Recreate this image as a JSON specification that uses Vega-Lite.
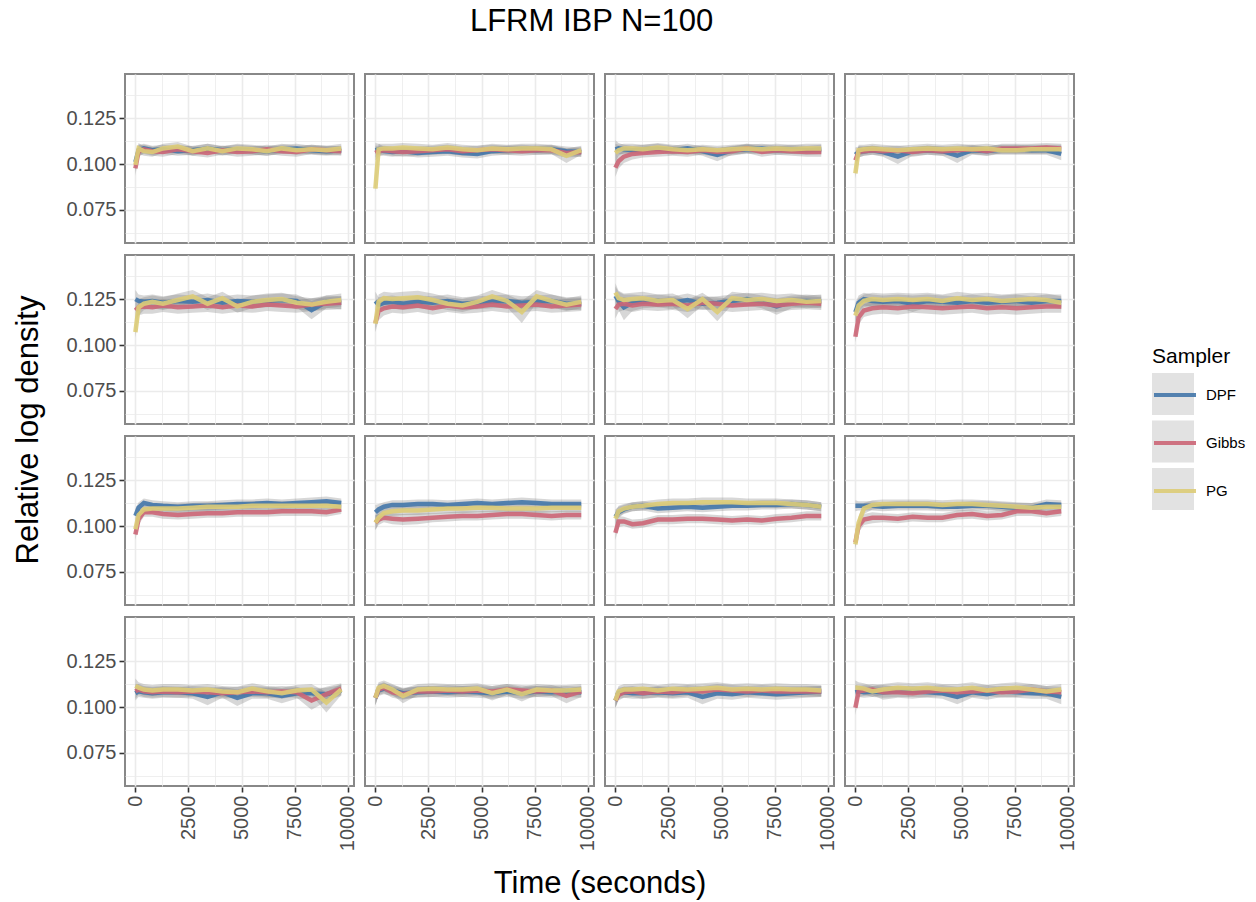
{
"$schema": "https://vega.github.io/schema/vega-lite/v6.json",
"background": "white",
"padding": {"left": 12, "top": 6, "right": 5, "bottom": 5},
"title": {"text": "LFRM IBP N=100", "fontSize": 31, "fontWeight": "normal", "font": "Liberation Sans", "color": "#000000", "anchor": "middle", "offset": 35, "dx": -38},
"data": {"values": [
{"p":1,"s":"DPF","t":0,"y":0.101,"lo":0.097,"hi":0.105},{"p":1,"s":"DPF","t":150,"y":0.1075,"lo":0.1045,"hi":0.1105},{"p":1,"s":"DPF","t":400,"y":0.1085,"lo":0.106,"hi":0.111},{"p":1,"s":"DPF","t":800,"y":0.1075,"lo":0.105,"hi":0.11},{"p":1,"s":"DPF","t":1300,"y":0.108,"lo":0.1055,"hi":0.1105},{"p":1,"s":"DPF","t":2000,"y":0.107,"lo":0.1045,"hi":0.1095},{"p":1,"s":"DPF","t":2700,"y":0.1075,"lo":0.105,"hi":0.11},{"p":1,"s":"DPF","t":3400,"y":0.1085,"lo":0.106,"hi":0.111},{"p":1,"s":"DPF","t":4100,"y":0.1075,"lo":0.105,"hi":0.11},{"p":1,"s":"DPF","t":4800,"y":0.108,"lo":0.1055,"hi":0.1105},{"p":1,"s":"DPF","t":5500,"y":0.1075,"lo":0.105,"hi":0.11},{"p":1,"s":"DPF","t":6200,"y":0.107,"lo":0.1045,"hi":0.1095},{"p":1,"s":"DPF","t":6900,"y":0.108,"lo":0.1055,"hi":0.1105},{"p":1,"s":"DPF","t":7600,"y":0.1085,"lo":0.106,"hi":0.111},{"p":1,"s":"DPF","t":8300,"y":0.1075,"lo":0.105,"hi":0.11},{"p":1,"s":"DPF","t":9000,"y":0.107,"lo":0.1045,"hi":0.1095},{"p":1,"s":"DPF","t":9700,"y":0.1075,"lo":0.105,"hi":0.11},
{"p":1,"s":"Gibbs","t":0,"y":0.0976,"lo":0.0936,"hi":0.1016},{"p":1,"s":"Gibbs","t":150,"y":0.107,"lo":0.104,"hi":0.11},{"p":1,"s":"Gibbs","t":400,"y":0.108,"lo":0.1055,"hi":0.1105},{"p":1,"s":"Gibbs","t":800,"y":0.107,"lo":0.1045,"hi":0.1095},{"p":1,"s":"Gibbs","t":1300,"y":0.1065,"lo":0.104,"hi":0.109},{"p":1,"s":"Gibbs","t":2000,"y":0.108,"lo":0.1055,"hi":0.1105},{"p":1,"s":"Gibbs","t":2700,"y":0.107,"lo":0.1045,"hi":0.1095},{"p":1,"s":"Gibbs","t":3400,"y":0.106,"lo":0.1035,"hi":0.1085},{"p":1,"s":"Gibbs","t":4100,"y":0.1075,"lo":0.105,"hi":0.11},{"p":1,"s":"Gibbs","t":4800,"y":0.1065,"lo":0.104,"hi":0.109},{"p":1,"s":"Gibbs","t":5500,"y":0.107,"lo":0.1045,"hi":0.1095},{"p":1,"s":"Gibbs","t":6200,"y":0.108,"lo":0.1055,"hi":0.1105},{"p":1,"s":"Gibbs","t":6900,"y":0.107,"lo":0.1045,"hi":0.1095},{"p":1,"s":"Gibbs","t":7600,"y":0.1065,"lo":0.104,"hi":0.109},{"p":1,"s":"Gibbs","t":8300,"y":0.108,"lo":0.1055,"hi":0.1105},{"p":1,"s":"Gibbs","t":9000,"y":0.1075,"lo":0.105,"hi":0.11},{"p":1,"s":"Gibbs","t":9700,"y":0.107,"lo":0.1045,"hi":0.1095},
{"p":1,"s":"PG","t":0,"y":0.0995,"lo":0.0955,"hi":0.1035},{"p":1,"s":"PG","t":150,"y":0.1085,"lo":0.1055,"hi":0.1115},{"p":1,"s":"PG","t":400,"y":0.107,"lo":0.1045,"hi":0.1095},{"p":1,"s":"PG","t":800,"y":0.1065,"lo":0.104,"hi":0.109},{"p":1,"s":"PG","t":1300,"y":0.1085,"lo":0.106,"hi":0.111},{"p":1,"s":"PG","t":2000,"y":0.1095,"lo":0.107,"hi":0.112},{"p":1,"s":"PG","t":2700,"y":0.107,"lo":0.1045,"hi":0.1095},{"p":1,"s":"PG","t":3400,"y":0.1085,"lo":0.106,"hi":0.111},{"p":1,"s":"PG","t":4100,"y":0.107,"lo":0.1045,"hi":0.1095},{"p":1,"s":"PG","t":4800,"y":0.1085,"lo":0.106,"hi":0.111},{"p":1,"s":"PG","t":5500,"y":0.108,"lo":0.1055,"hi":0.1105},{"p":1,"s":"PG","t":6200,"y":0.107,"lo":0.1045,"hi":0.1095},{"p":1,"s":"PG","t":6900,"y":0.1085,"lo":0.106,"hi":0.111},{"p":1,"s":"PG","t":7600,"y":0.1075,"lo":0.105,"hi":0.11},{"p":1,"s":"PG","t":8300,"y":0.108,"lo":0.1055,"hi":0.1105},{"p":1,"s":"PG","t":9000,"y":0.1075,"lo":0.105,"hi":0.11},{"p":1,"s":"PG","t":9700,"y":0.1085,"lo":0.106,"hi":0.111},
{"p":2,"s":"DPF","t":0,"y":0.1075,"lo":0.1035,"hi":0.1115},{"p":2,"s":"DPF","t":150,"y":0.108,"lo":0.105,"hi":0.111},{"p":2,"s":"DPF","t":400,"y":0.107,"lo":0.1045,"hi":0.1095},{"p":2,"s":"DPF","t":800,"y":0.1065,"lo":0.104,"hi":0.109},{"p":2,"s":"DPF","t":1300,"y":0.107,"lo":0.1045,"hi":0.1095},{"p":2,"s":"DPF","t":2000,"y":0.106,"lo":0.1035,"hi":0.1085},{"p":2,"s":"DPF","t":2700,"y":0.1065,"lo":0.104,"hi":0.109},{"p":2,"s":"DPF","t":3400,"y":0.107,"lo":0.1045,"hi":0.1095},{"p":2,"s":"DPF","t":4100,"y":0.106,"lo":0.1035,"hi":0.1085},{"p":2,"s":"DPF","t":4800,"y":0.1055,"lo":0.103,"hi":0.108},{"p":2,"s":"DPF","t":5500,"y":0.107,"lo":0.1045,"hi":0.1095},{"p":2,"s":"DPF","t":6200,"y":0.1075,"lo":0.105,"hi":0.11},{"p":2,"s":"DPF","t":6900,"y":0.108,"lo":0.1055,"hi":0.1105},{"p":2,"s":"DPF","t":7600,"y":0.1075,"lo":0.105,"hi":0.11},{"p":2,"s":"DPF","t":8300,"y":0.108,"lo":0.1055,"hi":0.1105},{"p":2,"s":"DPF","t":9000,"y":0.107,"lo":0.1045,"hi":0.1095},{"p":2,"s":"DPF","t":9700,"y":0.1065,"lo":0.104,"hi":0.109},
{"p":2,"s":"Gibbs","t":0,"y":0.106,"lo":0.102,"hi":0.11},{"p":2,"s":"Gibbs","t":150,"y":0.107,"lo":0.104,"hi":0.11},{"p":2,"s":"Gibbs","t":400,"y":0.1075,"lo":0.105,"hi":0.11},{"p":2,"s":"Gibbs","t":800,"y":0.107,"lo":0.1045,"hi":0.1095},{"p":2,"s":"Gibbs","t":1300,"y":0.1065,"lo":0.104,"hi":0.109},{"p":2,"s":"Gibbs","t":2000,"y":0.107,"lo":0.1045,"hi":0.1095},{"p":2,"s":"Gibbs","t":2700,"y":0.1075,"lo":0.105,"hi":0.11},{"p":2,"s":"Gibbs","t":3400,"y":0.108,"lo":0.1055,"hi":0.1105},{"p":2,"s":"Gibbs","t":4100,"y":0.107,"lo":0.1045,"hi":0.1095},{"p":2,"s":"Gibbs","t":4800,"y":0.1075,"lo":0.105,"hi":0.11},{"p":2,"s":"Gibbs","t":5500,"y":0.108,"lo":0.1055,"hi":0.1105},{"p":2,"s":"Gibbs","t":6200,"y":0.1075,"lo":0.105,"hi":0.11},{"p":2,"s":"Gibbs","t":6900,"y":0.107,"lo":0.1045,"hi":0.1095},{"p":2,"s":"Gibbs","t":7600,"y":0.1075,"lo":0.105,"hi":0.11},{"p":2,"s":"Gibbs","t":8300,"y":0.1075,"lo":0.105,"hi":0.11},{"p":2,"s":"Gibbs","t":9000,"y":0.106,"lo":0.1035,"hi":0.1085},{"p":2,"s":"Gibbs","t":9700,"y":0.1065,"lo":0.104,"hi":0.109},
{"p":2,"s":"PG","t":0,"y":0.0866,"lo":0.0846,"hi":0.0886},{"p":2,"s":"PG","t":150,"y":0.108,"lo":0.105,"hi":0.111},{"p":2,"s":"PG","t":400,"y":0.1085,"lo":0.106,"hi":0.111},{"p":2,"s":"PG","t":800,"y":0.1085,"lo":0.106,"hi":0.111},{"p":2,"s":"PG","t":1300,"y":0.109,"lo":0.1065,"hi":0.1115},{"p":2,"s":"PG","t":2000,"y":0.1085,"lo":0.106,"hi":0.111},{"p":2,"s":"PG","t":2700,"y":0.108,"lo":0.1055,"hi":0.1105},{"p":2,"s":"PG","t":3400,"y":0.109,"lo":0.1065,"hi":0.1115},{"p":2,"s":"PG","t":4100,"y":0.108,"lo":0.1055,"hi":0.1105},{"p":2,"s":"PG","t":4800,"y":0.1075,"lo":0.105,"hi":0.11},{"p":2,"s":"PG","t":5500,"y":0.1085,"lo":0.106,"hi":0.111},{"p":2,"s":"PG","t":6200,"y":0.108,"lo":0.1055,"hi":0.1105},{"p":2,"s":"PG","t":6900,"y":0.1085,"lo":0.106,"hi":0.111},{"p":2,"s":"PG","t":7600,"y":0.1085,"lo":0.106,"hi":0.111},{"p":2,"s":"PG","t":8300,"y":0.108,"lo":0.1055,"hi":0.1105},{"p":2,"s":"PG","t":9000,"y":0.1045,"lo":0.1005,"hi":0.1085},{"p":2,"s":"PG","t":9700,"y":0.1075,"lo":0.105,"hi":0.11},
{"p":3,"s":"DPF","t":0,"y":0.108,"lo":0.103,"hi":0.113},{"p":3,"s":"DPF","t":150,"y":0.1085,"lo":0.1055,"hi":0.1115},{"p":3,"s":"DPF","t":400,"y":0.108,"lo":0.1055,"hi":0.1105},{"p":3,"s":"DPF","t":800,"y":0.1075,"lo":0.105,"hi":0.11},{"p":3,"s":"DPF","t":1300,"y":0.108,"lo":0.1055,"hi":0.1105},{"p":3,"s":"DPF","t":2000,"y":0.1085,"lo":0.106,"hi":0.111},{"p":3,"s":"DPF","t":2700,"y":0.1075,"lo":0.105,"hi":0.11},{"p":3,"s":"DPF","t":3400,"y":0.1085,"lo":0.106,"hi":0.111},{"p":3,"s":"DPF","t":4100,"y":0.107,"lo":0.1045,"hi":0.1095},{"p":3,"s":"DPF","t":4800,"y":0.105,"lo":0.1015,"hi":0.1085},{"p":3,"s":"DPF","t":5500,"y":0.1075,"lo":0.105,"hi":0.11},{"p":3,"s":"DPF","t":6200,"y":0.108,"lo":0.1055,"hi":0.1105},{"p":3,"s":"DPF","t":6900,"y":0.1085,"lo":0.106,"hi":0.111},{"p":3,"s":"DPF","t":7600,"y":0.1075,"lo":0.105,"hi":0.11},{"p":3,"s":"DPF","t":8300,"y":0.108,"lo":0.1055,"hi":0.1105},{"p":3,"s":"DPF","t":9000,"y":0.1075,"lo":0.105,"hi":0.11},{"p":3,"s":"DPF","t":9700,"y":0.108,"lo":0.1055,"hi":0.1105},
{"p":3,"s":"Gibbs","t":0,"y":0.098,"lo":0.093,"hi":0.103},{"p":3,"s":"Gibbs","t":150,"y":0.1015,"lo":0.0975,"hi":0.1055},{"p":3,"s":"Gibbs","t":400,"y":0.104,"lo":0.1005,"hi":0.1075},{"p":3,"s":"Gibbs","t":800,"y":0.1055,"lo":0.1025,"hi":0.1085},{"p":3,"s":"Gibbs","t":1300,"y":0.106,"lo":0.1035,"hi":0.1085},{"p":3,"s":"Gibbs","t":2000,"y":0.1065,"lo":0.104,"hi":0.109},{"p":3,"s":"Gibbs","t":2700,"y":0.107,"lo":0.1045,"hi":0.1095},{"p":3,"s":"Gibbs","t":3400,"y":0.1065,"lo":0.104,"hi":0.109},{"p":3,"s":"Gibbs","t":4100,"y":0.1075,"lo":0.105,"hi":0.11},{"p":3,"s":"Gibbs","t":4800,"y":0.1065,"lo":0.104,"hi":0.109},{"p":3,"s":"Gibbs","t":5500,"y":0.107,"lo":0.1045,"hi":0.1095},{"p":3,"s":"Gibbs","t":6200,"y":0.1085,"lo":0.106,"hi":0.111},{"p":3,"s":"Gibbs","t":6900,"y":0.1065,"lo":0.104,"hi":0.109},{"p":3,"s":"Gibbs","t":7600,"y":0.1075,"lo":0.105,"hi":0.11},{"p":3,"s":"Gibbs","t":8300,"y":0.107,"lo":0.1045,"hi":0.1095},{"p":3,"s":"Gibbs","t":9000,"y":0.1065,"lo":0.104,"hi":0.109},{"p":3,"s":"Gibbs","t":9700,"y":0.1065,"lo":0.104,"hi":0.109},
{"p":3,"s":"PG","t":0,"y":0.106,"lo":0.101,"hi":0.111},{"p":3,"s":"PG","t":150,"y":0.1075,"lo":0.1045,"hi":0.1105},{"p":3,"s":"PG","t":400,"y":0.1085,"lo":0.106,"hi":0.111},{"p":3,"s":"PG","t":800,"y":0.1085,"lo":0.106,"hi":0.111},{"p":3,"s":"PG","t":1300,"y":0.108,"lo":0.1055,"hi":0.1105},{"p":3,"s":"PG","t":2000,"y":0.109,"lo":0.1065,"hi":0.1115},{"p":3,"s":"PG","t":2700,"y":0.108,"lo":0.1055,"hi":0.1105},{"p":3,"s":"PG","t":3400,"y":0.1075,"lo":0.105,"hi":0.11},{"p":3,"s":"PG","t":4100,"y":0.108,"lo":0.1055,"hi":0.1105},{"p":3,"s":"PG","t":4800,"y":0.1075,"lo":0.105,"hi":0.11},{"p":3,"s":"PG","t":5500,"y":0.108,"lo":0.1055,"hi":0.1105},{"p":3,"s":"PG","t":6200,"y":0.1085,"lo":0.106,"hi":0.111},{"p":3,"s":"PG","t":6900,"y":0.108,"lo":0.1055,"hi":0.1105},{"p":3,"s":"PG","t":7600,"y":0.1085,"lo":0.106,"hi":0.111},{"p":3,"s":"PG","t":8300,"y":0.108,"lo":0.1055,"hi":0.1105},{"p":3,"s":"PG","t":9000,"y":0.1085,"lo":0.106,"hi":0.111},{"p":3,"s":"PG","t":9700,"y":0.1085,"lo":0.106,"hi":0.111},
{"p":4,"s":"DPF","t":0,"y":0.105,"lo":0.101,"hi":0.109},{"p":4,"s":"DPF","t":150,"y":0.1065,"lo":0.1035,"hi":0.1095},{"p":4,"s":"DPF","t":400,"y":0.107,"lo":0.1045,"hi":0.1095},{"p":4,"s":"DPF","t":800,"y":0.1075,"lo":0.105,"hi":0.11},{"p":4,"s":"DPF","t":1300,"y":0.1065,"lo":0.104,"hi":0.109},{"p":4,"s":"DPF","t":2000,"y":0.104,"lo":0.1,"hi":0.108},{"p":4,"s":"DPF","t":2700,"y":0.107,"lo":0.1045,"hi":0.1095},{"p":4,"s":"DPF","t":3400,"y":0.1075,"lo":0.105,"hi":0.11},{"p":4,"s":"DPF","t":4100,"y":0.107,"lo":0.1045,"hi":0.1095},{"p":4,"s":"DPF","t":4800,"y":0.1045,"lo":0.1005,"hi":0.1085},{"p":4,"s":"DPF","t":5500,"y":0.1075,"lo":0.105,"hi":0.11},{"p":4,"s":"DPF","t":6200,"y":0.107,"lo":0.1045,"hi":0.1095},{"p":4,"s":"DPF","t":6900,"y":0.108,"lo":0.1055,"hi":0.1105},{"p":4,"s":"DPF","t":7600,"y":0.108,"lo":0.1055,"hi":0.1105},{"p":4,"s":"DPF","t":8300,"y":0.1075,"lo":0.105,"hi":0.11},{"p":4,"s":"DPF","t":9000,"y":0.1075,"lo":0.105,"hi":0.11},{"p":4,"s":"DPF","t":9700,"y":0.1055,"lo":0.102,"hi":0.109},
{"p":4,"s":"Gibbs","t":0,"y":0.102,"lo":0.098,"hi":0.106},{"p":4,"s":"Gibbs","t":150,"y":0.1065,"lo":0.1035,"hi":0.1095},{"p":4,"s":"Gibbs","t":400,"y":0.107,"lo":0.1045,"hi":0.1095},{"p":4,"s":"Gibbs","t":800,"y":0.1075,"lo":0.105,"hi":0.11},{"p":4,"s":"Gibbs","t":1300,"y":0.107,"lo":0.1045,"hi":0.1095},{"p":4,"s":"Gibbs","t":2000,"y":0.1075,"lo":0.105,"hi":0.11},{"p":4,"s":"Gibbs","t":2700,"y":0.1065,"lo":0.104,"hi":0.109},{"p":4,"s":"Gibbs","t":3400,"y":0.1075,"lo":0.105,"hi":0.11},{"p":4,"s":"Gibbs","t":4100,"y":0.107,"lo":0.1045,"hi":0.1095},{"p":4,"s":"Gibbs","t":4800,"y":0.1075,"lo":0.105,"hi":0.11},{"p":4,"s":"Gibbs","t":5500,"y":0.108,"lo":0.1055,"hi":0.1105},{"p":4,"s":"Gibbs","t":6200,"y":0.107,"lo":0.1045,"hi":0.1095},{"p":4,"s":"Gibbs","t":6900,"y":0.1085,"lo":0.106,"hi":0.111},{"p":4,"s":"Gibbs","t":7600,"y":0.1085,"lo":0.106,"hi":0.111},{"p":4,"s":"Gibbs","t":8300,"y":0.1085,"lo":0.106,"hi":0.111},{"p":4,"s":"Gibbs","t":9000,"y":0.109,"lo":0.1065,"hi":0.1115},{"p":4,"s":"Gibbs","t":9700,"y":0.1085,"lo":0.106,"hi":0.111},
{"p":4,"s":"PG","t":0,"y":0.0949,"lo":0.0919,"hi":0.0979},{"p":4,"s":"PG","t":150,"y":0.1075,"lo":0.1045,"hi":0.1105},{"p":4,"s":"PG","t":400,"y":0.108,"lo":0.1055,"hi":0.1105},{"p":4,"s":"PG","t":800,"y":0.1085,"lo":0.106,"hi":0.111},{"p":4,"s":"PG","t":1300,"y":0.108,"lo":0.1055,"hi":0.1105},{"p":4,"s":"PG","t":2000,"y":0.1075,"lo":0.105,"hi":0.11},{"p":4,"s":"PG","t":2700,"y":0.108,"lo":0.1055,"hi":0.1105},{"p":4,"s":"PG","t":3400,"y":0.1085,"lo":0.106,"hi":0.111},{"p":4,"s":"PG","t":4100,"y":0.108,"lo":0.1055,"hi":0.1105},{"p":4,"s":"PG","t":4800,"y":0.1085,"lo":0.106,"hi":0.111},{"p":4,"s":"PG","t":5500,"y":0.108,"lo":0.1055,"hi":0.1105},{"p":4,"s":"PG","t":6200,"y":0.1085,"lo":0.106,"hi":0.111},{"p":4,"s":"PG","t":6900,"y":0.1075,"lo":0.105,"hi":0.11},{"p":4,"s":"PG","t":7600,"y":0.1075,"lo":0.105,"hi":0.11},{"p":4,"s":"PG","t":8300,"y":0.108,"lo":0.1055,"hi":0.1105},{"p":4,"s":"PG","t":9000,"y":0.108,"lo":0.1055,"hi":0.1105},{"p":4,"s":"PG","t":9700,"y":0.108,"lo":0.1055,"hi":0.1105},
{"p":5,"s":"DPF","t":0,"y":0.125,"lo":0.12,"hi":0.13},{"p":5,"s":"DPF","t":150,"y":0.124,"lo":0.1205,"hi":0.1275},{"p":5,"s":"DPF","t":400,"y":0.1235,"lo":0.12,"hi":0.127},{"p":5,"s":"DPF","t":800,"y":0.124,"lo":0.1205,"hi":0.1275},{"p":5,"s":"DPF","t":1300,"y":0.123,"lo":0.1195,"hi":0.1265},{"p":5,"s":"DPF","t":2000,"y":0.124,"lo":0.1205,"hi":0.1275},{"p":5,"s":"DPF","t":2700,"y":0.1235,"lo":0.12,"hi":0.127},{"p":5,"s":"DPF","t":3400,"y":0.1245,"lo":0.121,"hi":0.128},{"p":5,"s":"DPF","t":4100,"y":0.123,"lo":0.1195,"hi":0.1265},{"p":5,"s":"DPF","t":4800,"y":0.124,"lo":0.1205,"hi":0.1275},{"p":5,"s":"DPF","t":5500,"y":0.1235,"lo":0.12,"hi":0.127},{"p":5,"s":"DPF","t":6200,"y":0.124,"lo":0.1205,"hi":0.1275},{"p":5,"s":"DPF","t":6900,"y":0.1245,"lo":0.121,"hi":0.128},{"p":5,"s":"DPF","t":7600,"y":0.124,"lo":0.1205,"hi":0.1275},{"p":5,"s":"DPF","t":8300,"y":0.119,"lo":0.114,"hi":0.124},{"p":5,"s":"DPF","t":9000,"y":0.1235,"lo":0.12,"hi":0.127},{"p":5,"s":"DPF","t":9700,"y":0.123,"lo":0.1195,"hi":0.1265},
{"p":5,"s":"Gibbs","t":0,"y":0.1188,"lo":0.1138,"hi":0.1238},{"p":5,"s":"Gibbs","t":150,"y":0.1205,"lo":0.116,"hi":0.125},{"p":5,"s":"Gibbs","t":400,"y":0.121,"lo":0.117,"hi":0.125},{"p":5,"s":"Gibbs","t":800,"y":0.1205,"lo":0.117,"hi":0.124},{"p":5,"s":"Gibbs","t":1300,"y":0.1215,"lo":0.118,"hi":0.125},{"p":5,"s":"Gibbs","t":2000,"y":0.1205,"lo":0.117,"hi":0.124},{"p":5,"s":"Gibbs","t":2700,"y":0.121,"lo":0.1175,"hi":0.1245},{"p":5,"s":"Gibbs","t":3400,"y":0.1215,"lo":0.118,"hi":0.125},{"p":5,"s":"Gibbs","t":4100,"y":0.1205,"lo":0.117,"hi":0.124},{"p":5,"s":"Gibbs","t":4800,"y":0.1215,"lo":0.118,"hi":0.125},{"p":5,"s":"Gibbs","t":5500,"y":0.121,"lo":0.1175,"hi":0.1245},{"p":5,"s":"Gibbs","t":6200,"y":0.122,"lo":0.1185,"hi":0.1255},{"p":5,"s":"Gibbs","t":6900,"y":0.1215,"lo":0.118,"hi":0.125},{"p":5,"s":"Gibbs","t":7600,"y":0.121,"lo":0.1175,"hi":0.1245},{"p":5,"s":"Gibbs","t":8300,"y":0.122,"lo":0.1185,"hi":0.1255},{"p":5,"s":"Gibbs","t":9000,"y":0.1225,"lo":0.119,"hi":0.126},{"p":5,"s":"Gibbs","t":9700,"y":0.123,"lo":0.1195,"hi":0.1265},
{"p":5,"s":"PG","t":0,"y":0.107,"lo":0.104,"hi":0.11},{"p":5,"s":"PG","t":150,"y":0.1205,"lo":0.116,"hi":0.125},{"p":5,"s":"PG","t":400,"y":0.1225,"lo":0.119,"hi":0.126},{"p":5,"s":"PG","t":800,"y":0.1235,"lo":0.12,"hi":0.127},{"p":5,"s":"PG","t":1300,"y":0.1225,"lo":0.119,"hi":0.126},{"p":5,"s":"PG","t":2000,"y":0.1245,"lo":0.121,"hi":0.128},{"p":5,"s":"PG","t":2700,"y":0.1265,"lo":0.123,"hi":0.13},{"p":5,"s":"PG","t":3400,"y":0.1225,"lo":0.119,"hi":0.126},{"p":5,"s":"PG","t":4100,"y":0.1255,"lo":0.122,"hi":0.129},{"p":5,"s":"PG","t":4800,"y":0.121,"lo":0.1175,"hi":0.1245},{"p":5,"s":"PG","t":5500,"y":0.1235,"lo":0.12,"hi":0.127},{"p":5,"s":"PG","t":6200,"y":0.1245,"lo":0.121,"hi":0.128},{"p":5,"s":"PG","t":6900,"y":0.125,"lo":0.1215,"hi":0.1285},{"p":5,"s":"PG","t":7600,"y":0.123,"lo":0.1195,"hi":0.1265},{"p":5,"s":"PG","t":8300,"y":0.122,"lo":0.1185,"hi":0.1255},{"p":5,"s":"PG","t":9000,"y":0.1235,"lo":0.12,"hi":0.127},{"p":5,"s":"PG","t":9700,"y":0.1245,"lo":0.121,"hi":0.128},
{"p":6,"s":"DPF","t":0,"y":0.124,"lo":0.119,"hi":0.129},{"p":6,"s":"DPF","t":150,"y":0.122,"lo":0.118,"hi":0.126},{"p":6,"s":"DPF","t":400,"y":0.123,"lo":0.1195,"hi":0.1265},{"p":6,"s":"DPF","t":800,"y":0.1235,"lo":0.12,"hi":0.127},{"p":6,"s":"DPF","t":1300,"y":0.1225,"lo":0.119,"hi":0.126},{"p":6,"s":"DPF","t":2000,"y":0.1235,"lo":0.12,"hi":0.127},{"p":6,"s":"DPF","t":2700,"y":0.123,"lo":0.1195,"hi":0.1265},{"p":6,"s":"DPF","t":3400,"y":0.124,"lo":0.1205,"hi":0.1275},{"p":6,"s":"DPF","t":4100,"y":0.1225,"lo":0.119,"hi":0.126},{"p":6,"s":"DPF","t":4800,"y":0.123,"lo":0.1195,"hi":0.1265},{"p":6,"s":"DPF","t":5500,"y":0.1235,"lo":0.12,"hi":0.127},{"p":6,"s":"DPF","t":6200,"y":0.124,"lo":0.1205,"hi":0.1275},{"p":6,"s":"DPF","t":6900,"y":0.123,"lo":0.1195,"hi":0.1265},{"p":6,"s":"DPF","t":7600,"y":0.1235,"lo":0.12,"hi":0.127},{"p":6,"s":"DPF","t":8300,"y":0.124,"lo":0.1205,"hi":0.1275},{"p":6,"s":"DPF","t":9000,"y":0.1225,"lo":0.119,"hi":0.126},{"p":6,"s":"DPF","t":9700,"y":0.1225,"lo":0.119,"hi":0.126},
{"p":6,"s":"Gibbs","t":0,"y":0.112,"lo":0.107,"hi":0.117},{"p":6,"s":"Gibbs","t":150,"y":0.1185,"lo":0.1135,"hi":0.1235},{"p":6,"s":"Gibbs","t":400,"y":0.12,"lo":0.116,"hi":0.124},{"p":6,"s":"Gibbs","t":800,"y":0.121,"lo":0.1175,"hi":0.1245},{"p":6,"s":"Gibbs","t":1300,"y":0.1205,"lo":0.117,"hi":0.124},{"p":6,"s":"Gibbs","t":2000,"y":0.1215,"lo":0.118,"hi":0.125},{"p":6,"s":"Gibbs","t":2700,"y":0.12,"lo":0.1165,"hi":0.1235},{"p":6,"s":"Gibbs","t":3400,"y":0.1215,"lo":0.118,"hi":0.125},{"p":6,"s":"Gibbs","t":4100,"y":0.1205,"lo":0.117,"hi":0.124},{"p":6,"s":"Gibbs","t":4800,"y":0.121,"lo":0.1175,"hi":0.1245},{"p":6,"s":"Gibbs","t":5500,"y":0.122,"lo":0.1185,"hi":0.1255},{"p":6,"s":"Gibbs","t":6200,"y":0.121,"lo":0.1175,"hi":0.1245},{"p":6,"s":"Gibbs","t":6900,"y":0.1215,"lo":0.118,"hi":0.125},{"p":6,"s":"Gibbs","t":7600,"y":0.122,"lo":0.1185,"hi":0.1255},{"p":6,"s":"Gibbs","t":8300,"y":0.121,"lo":0.1175,"hi":0.1245},{"p":6,"s":"Gibbs","t":9000,"y":0.1215,"lo":0.118,"hi":0.125},{"p":6,"s":"Gibbs","t":9700,"y":0.122,"lo":0.1185,"hi":0.1255},
{"p":6,"s":"PG","t":0,"y":0.1116,"lo":0.1076,"hi":0.1156},{"p":6,"s":"PG","t":150,"y":0.1235,"lo":0.1195,"hi":0.1275},{"p":6,"s":"PG","t":400,"y":0.1255,"lo":0.122,"hi":0.129},{"p":6,"s":"PG","t":800,"y":0.125,"lo":0.1215,"hi":0.1285},{"p":6,"s":"PG","t":1300,"y":0.1255,"lo":0.122,"hi":0.129},{"p":6,"s":"PG","t":2000,"y":0.126,"lo":0.1225,"hi":0.1295},{"p":6,"s":"PG","t":2700,"y":0.1245,"lo":0.121,"hi":0.128},{"p":6,"s":"PG","t":3400,"y":0.1225,"lo":0.119,"hi":0.126},{"p":6,"s":"PG","t":4100,"y":0.1215,"lo":0.118,"hi":0.125},{"p":6,"s":"PG","t":4800,"y":0.1235,"lo":0.12,"hi":0.127},{"p":6,"s":"PG","t":5500,"y":0.1265,"lo":0.123,"hi":0.13},{"p":6,"s":"PG","t":6200,"y":0.124,"lo":0.1205,"hi":0.1275},{"p":6,"s":"PG","t":6900,"y":0.118,"lo":0.112,"hi":0.124},{"p":6,"s":"PG","t":7600,"y":0.1265,"lo":0.123,"hi":0.13},{"p":6,"s":"PG","t":8300,"y":0.124,"lo":0.1205,"hi":0.1275},{"p":6,"s":"PG","t":9000,"y":0.122,"lo":0.1185,"hi":0.1255},{"p":6,"s":"PG","t":9700,"y":0.1235,"lo":0.12,"hi":0.127},
{"p":7,"s":"DPF","t":0,"y":0.1268,"lo":0.1218,"hi":0.1318},{"p":7,"s":"DPF","t":150,"y":0.124,"lo":0.119,"hi":0.129},{"p":7,"s":"DPF","t":400,"y":0.1205,"lo":0.1135,"hi":0.1275},{"p":7,"s":"DPF","t":800,"y":0.123,"lo":0.1185,"hi":0.1275},{"p":7,"s":"DPF","t":1300,"y":0.1235,"lo":0.12,"hi":0.127},{"p":7,"s":"DPF","t":2000,"y":0.124,"lo":0.1205,"hi":0.1275},{"p":7,"s":"DPF","t":2700,"y":0.123,"lo":0.1195,"hi":0.1265},{"p":7,"s":"DPF","t":3400,"y":0.1245,"lo":0.121,"hi":0.128},{"p":7,"s":"DPF","t":4100,"y":0.1225,"lo":0.119,"hi":0.126},{"p":7,"s":"DPF","t":4800,"y":0.123,"lo":0.1195,"hi":0.1265},{"p":7,"s":"DPF","t":5500,"y":0.124,"lo":0.1205,"hi":0.1275},{"p":7,"s":"DPF","t":6200,"y":0.125,"lo":0.1215,"hi":0.1285},{"p":7,"s":"DPF","t":6900,"y":0.1235,"lo":0.12,"hi":0.127},{"p":7,"s":"DPF","t":7600,"y":0.121,"lo":0.1165,"hi":0.1255},{"p":7,"s":"DPF","t":8300,"y":0.1235,"lo":0.12,"hi":0.127},{"p":7,"s":"DPF","t":9000,"y":0.124,"lo":0.1205,"hi":0.1275},{"p":7,"s":"DPF","t":9700,"y":0.1235,"lo":0.12,"hi":0.127},
{"p":7,"s":"Gibbs","t":0,"y":0.1196,"lo":0.1146,"hi":0.1246},{"p":7,"s":"Gibbs","t":150,"y":0.122,"lo":0.118,"hi":0.126},{"p":7,"s":"Gibbs","t":400,"y":0.1225,"lo":0.119,"hi":0.126},{"p":7,"s":"Gibbs","t":800,"y":0.1215,"lo":0.118,"hi":0.125},{"p":7,"s":"Gibbs","t":1300,"y":0.1225,"lo":0.119,"hi":0.126},{"p":7,"s":"Gibbs","t":2000,"y":0.122,"lo":0.1185,"hi":0.1255},{"p":7,"s":"Gibbs","t":2700,"y":0.1225,"lo":0.119,"hi":0.126},{"p":7,"s":"Gibbs","t":3400,"y":0.1215,"lo":0.118,"hi":0.125},{"p":7,"s":"Gibbs","t":4100,"y":0.123,"lo":0.1195,"hi":0.1265},{"p":7,"s":"Gibbs","t":4800,"y":0.1225,"lo":0.119,"hi":0.126},{"p":7,"s":"Gibbs","t":5500,"y":0.1215,"lo":0.118,"hi":0.125},{"p":7,"s":"Gibbs","t":6200,"y":0.122,"lo":0.1185,"hi":0.1255},{"p":7,"s":"Gibbs","t":6900,"y":0.1225,"lo":0.119,"hi":0.126},{"p":7,"s":"Gibbs","t":7600,"y":0.1215,"lo":0.118,"hi":0.125},{"p":7,"s":"Gibbs","t":8300,"y":0.1225,"lo":0.119,"hi":0.126},{"p":7,"s":"Gibbs","t":9000,"y":0.123,"lo":0.1195,"hi":0.1265},{"p":7,"s":"Gibbs","t":9700,"y":0.1225,"lo":0.119,"hi":0.126},
{"p":7,"s":"PG","t":0,"y":0.1286,"lo":0.1236,"hi":0.1336},{"p":7,"s":"PG","t":150,"y":0.1255,"lo":0.1215,"hi":0.1295},{"p":7,"s":"PG","t":400,"y":0.1245,"lo":0.121,"hi":0.128},{"p":7,"s":"PG","t":800,"y":0.125,"lo":0.1215,"hi":0.1285},{"p":7,"s":"PG","t":1300,"y":0.1255,"lo":0.122,"hi":0.129},{"p":7,"s":"PG","t":2000,"y":0.124,"lo":0.1205,"hi":0.1275},{"p":7,"s":"PG","t":2700,"y":0.1245,"lo":0.121,"hi":0.128},{"p":7,"s":"PG","t":3400,"y":0.1196,"lo":0.1146,"hi":0.1246},{"p":7,"s":"PG","t":4100,"y":0.125,"lo":0.1215,"hi":0.1285},{"p":7,"s":"PG","t":4800,"y":0.118,"lo":0.113,"hi":0.123},{"p":7,"s":"PG","t":5500,"y":0.1255,"lo":0.122,"hi":0.129},{"p":7,"s":"PG","t":6200,"y":0.1245,"lo":0.121,"hi":0.128},{"p":7,"s":"PG","t":6900,"y":0.125,"lo":0.1215,"hi":0.1285},{"p":7,"s":"PG","t":7600,"y":0.124,"lo":0.1205,"hi":0.1275},{"p":7,"s":"PG","t":8300,"y":0.1245,"lo":0.121,"hi":0.128},{"p":7,"s":"PG","t":9000,"y":0.1235,"lo":0.12,"hi":0.127},{"p":7,"s":"PG","t":9700,"y":0.124,"lo":0.1205,"hi":0.1275},
{"p":8,"s":"DPF","t":0,"y":0.1179,"lo":0.1129,"hi":0.1229},{"p":8,"s":"DPF","t":150,"y":0.123,"lo":0.119,"hi":0.127},{"p":8,"s":"DPF","t":400,"y":0.125,"lo":0.1215,"hi":0.1285},{"p":8,"s":"DPF","t":800,"y":0.124,"lo":0.1205,"hi":0.1275},{"p":8,"s":"DPF","t":1300,"y":0.1235,"lo":0.12,"hi":0.127},{"p":8,"s":"DPF","t":2000,"y":0.124,"lo":0.1205,"hi":0.1275},{"p":8,"s":"DPF","t":2700,"y":0.1225,"lo":0.118,"hi":0.127},{"p":8,"s":"DPF","t":3400,"y":0.124,"lo":0.1205,"hi":0.1275},{"p":8,"s":"DPF","t":4100,"y":0.1235,"lo":0.12,"hi":0.127},{"p":8,"s":"DPF","t":4800,"y":0.123,"lo":0.1195,"hi":0.1265},{"p":8,"s":"DPF","t":5500,"y":0.124,"lo":0.1205,"hi":0.1275},{"p":8,"s":"DPF","t":6200,"y":0.123,"lo":0.1195,"hi":0.1265},{"p":8,"s":"DPF","t":6900,"y":0.1235,"lo":0.12,"hi":0.127},{"p":8,"s":"DPF","t":7600,"y":0.124,"lo":0.1205,"hi":0.1275},{"p":8,"s":"DPF","t":8300,"y":0.123,"lo":0.1195,"hi":0.1265},{"p":8,"s":"DPF","t":9000,"y":0.124,"lo":0.1205,"hi":0.1275},{"p":8,"s":"DPF","t":9700,"y":0.124,"lo":0.1205,"hi":0.1275},
{"p":8,"s":"Gibbs","t":0,"y":0.1045,"lo":0.1015,"hi":0.1075},{"p":8,"s":"Gibbs","t":150,"y":0.115,"lo":0.111,"hi":0.119},{"p":8,"s":"Gibbs","t":400,"y":0.1188,"lo":0.1153,"hi":0.1223},{"p":8,"s":"Gibbs","t":800,"y":0.12,"lo":0.1165,"hi":0.1235},{"p":8,"s":"Gibbs","t":1300,"y":0.1205,"lo":0.117,"hi":0.124},{"p":8,"s":"Gibbs","t":2000,"y":0.12,"lo":0.1165,"hi":0.1235},{"p":8,"s":"Gibbs","t":2700,"y":0.121,"lo":0.1175,"hi":0.1245},{"p":8,"s":"Gibbs","t":3400,"y":0.1205,"lo":0.117,"hi":0.124},{"p":8,"s":"Gibbs","t":4100,"y":0.12,"lo":0.1165,"hi":0.1235},{"p":8,"s":"Gibbs","t":4800,"y":0.1205,"lo":0.117,"hi":0.124},{"p":8,"s":"Gibbs","t":5500,"y":0.121,"lo":0.1175,"hi":0.1245},{"p":8,"s":"Gibbs","t":6200,"y":0.12,"lo":0.1165,"hi":0.1235},{"p":8,"s":"Gibbs","t":6900,"y":0.1205,"lo":0.117,"hi":0.124},{"p":8,"s":"Gibbs","t":7600,"y":0.12,"lo":0.1165,"hi":0.1235},{"p":8,"s":"Gibbs","t":8300,"y":0.1205,"lo":0.117,"hi":0.124},{"p":8,"s":"Gibbs","t":9000,"y":0.121,"lo":0.1175,"hi":0.1245},{"p":8,"s":"Gibbs","t":9700,"y":0.121,"lo":0.1175,"hi":0.1245},
{"p":8,"s":"PG","t":0,"y":0.116,"lo":0.112,"hi":0.12},{"p":8,"s":"PG","t":150,"y":0.1215,"lo":0.1175,"hi":0.1255},{"p":8,"s":"PG","t":400,"y":0.124,"lo":0.1205,"hi":0.1275},{"p":8,"s":"PG","t":800,"y":0.125,"lo":0.1215,"hi":0.1285},{"p":8,"s":"PG","t":1300,"y":0.1245,"lo":0.121,"hi":0.128},{"p":8,"s":"PG","t":2000,"y":0.125,"lo":0.1215,"hi":0.1285},{"p":8,"s":"PG","t":2700,"y":0.1245,"lo":0.121,"hi":0.128},{"p":8,"s":"PG","t":3400,"y":0.125,"lo":0.1215,"hi":0.1285},{"p":8,"s":"PG","t":4100,"y":0.124,"lo":0.1205,"hi":0.1275},{"p":8,"s":"PG","t":4800,"y":0.1255,"lo":0.122,"hi":0.129},{"p":8,"s":"PG","t":5500,"y":0.1245,"lo":0.121,"hi":0.128},{"p":8,"s":"PG","t":6200,"y":0.125,"lo":0.1215,"hi":0.1285},{"p":8,"s":"PG","t":6900,"y":0.124,"lo":0.1205,"hi":0.1275},{"p":8,"s":"PG","t":7600,"y":0.1245,"lo":0.121,"hi":0.128},{"p":8,"s":"PG","t":8300,"y":0.125,"lo":0.1215,"hi":0.1285},{"p":8,"s":"PG","t":9000,"y":0.1245,"lo":0.121,"hi":0.128},{"p":8,"s":"PG","t":9700,"y":0.123,"lo":0.1195,"hi":0.1265},
{"p":9,"s":"DPF","t":0,"y":0.1055,"lo":0.1015,"hi":0.1095},{"p":9,"s":"DPF","t":150,"y":0.11,"lo":0.107,"hi":0.113},{"p":9,"s":"DPF","t":400,"y":0.1125,"lo":0.11,"hi":0.115},{"p":9,"s":"DPF","t":800,"y":0.1115,"lo":0.109,"hi":0.114},{"p":9,"s":"DPF","t":1300,"y":0.111,"lo":0.1085,"hi":0.1135},{"p":9,"s":"DPF","t":2000,"y":0.1105,"lo":0.108,"hi":0.113},{"p":9,"s":"DPF","t":2700,"y":0.111,"lo":0.1085,"hi":0.1135},{"p":9,"s":"DPF","t":3400,"y":0.111,"lo":0.1085,"hi":0.1135},{"p":9,"s":"DPF","t":4100,"y":0.1115,"lo":0.109,"hi":0.114},{"p":9,"s":"DPF","t":4800,"y":0.112,"lo":0.1095,"hi":0.1145},{"p":9,"s":"DPF","t":5500,"y":0.112,"lo":0.1095,"hi":0.1145},{"p":9,"s":"DPF","t":6200,"y":0.1125,"lo":0.11,"hi":0.115},{"p":9,"s":"DPF","t":6900,"y":0.112,"lo":0.1095,"hi":0.1145},{"p":9,"s":"DPF","t":7600,"y":0.1125,"lo":0.11,"hi":0.115},{"p":9,"s":"DPF","t":8300,"y":0.113,"lo":0.1105,"hi":0.1155},{"p":9,"s":"DPF","t":9000,"y":0.1135,"lo":0.111,"hi":0.116},{"p":9,"s":"DPF","t":9700,"y":0.1125,"lo":0.11,"hi":0.115},
{"p":9,"s":"Gibbs","t":0,"y":0.0954,"lo":0.0924,"hi":0.0984},{"p":9,"s":"Gibbs","t":150,"y":0.1037,"lo":0.1007,"hi":0.1067},{"p":9,"s":"Gibbs","t":400,"y":0.1075,"lo":0.105,"hi":0.11},{"p":9,"s":"Gibbs","t":800,"y":0.1075,"lo":0.105,"hi":0.11},{"p":9,"s":"Gibbs","t":1300,"y":0.1065,"lo":0.104,"hi":0.109},{"p":9,"s":"Gibbs","t":2000,"y":0.106,"lo":0.1035,"hi":0.1085},{"p":9,"s":"Gibbs","t":2700,"y":0.1065,"lo":0.104,"hi":0.109},{"p":9,"s":"Gibbs","t":3400,"y":0.107,"lo":0.1045,"hi":0.1095},{"p":9,"s":"Gibbs","t":4100,"y":0.107,"lo":0.1045,"hi":0.1095},{"p":9,"s":"Gibbs","t":4800,"y":0.1075,"lo":0.105,"hi":0.11},{"p":9,"s":"Gibbs","t":5500,"y":0.1075,"lo":0.105,"hi":0.11},{"p":9,"s":"Gibbs","t":6200,"y":0.1075,"lo":0.105,"hi":0.11},{"p":9,"s":"Gibbs","t":6900,"y":0.108,"lo":0.1055,"hi":0.1105},{"p":9,"s":"Gibbs","t":7600,"y":0.108,"lo":0.1055,"hi":0.1105},{"p":9,"s":"Gibbs","t":8300,"y":0.108,"lo":0.1055,"hi":0.1105},{"p":9,"s":"Gibbs","t":9000,"y":0.1075,"lo":0.105,"hi":0.11},{"p":9,"s":"Gibbs","t":9700,"y":0.109,"lo":0.1065,"hi":0.1115},
{"p":9,"s":"PG","t":0,"y":0.0982,"lo":0.0952,"hi":0.1012},{"p":9,"s":"PG","t":150,"y":0.106,"lo":0.103,"hi":0.109},{"p":9,"s":"PG","t":400,"y":0.109,"lo":0.1065,"hi":0.1115},{"p":9,"s":"PG","t":800,"y":0.1095,"lo":0.107,"hi":0.112},{"p":9,"s":"PG","t":1300,"y":0.1095,"lo":0.107,"hi":0.112},{"p":9,"s":"PG","t":2000,"y":0.1095,"lo":0.107,"hi":0.112},{"p":9,"s":"PG","t":2700,"y":0.11,"lo":0.1075,"hi":0.1125},{"p":9,"s":"PG","t":3400,"y":0.1105,"lo":0.108,"hi":0.113},{"p":9,"s":"PG","t":4100,"y":0.1105,"lo":0.108,"hi":0.113},{"p":9,"s":"PG","t":4800,"y":0.1105,"lo":0.108,"hi":0.113},{"p":9,"s":"PG","t":5500,"y":0.111,"lo":0.1085,"hi":0.1135},{"p":9,"s":"PG","t":6200,"y":0.111,"lo":0.1085,"hi":0.1135},{"p":9,"s":"PG","t":6900,"y":0.111,"lo":0.1085,"hi":0.1135},{"p":9,"s":"PG","t":7600,"y":0.111,"lo":0.1085,"hi":0.1135},{"p":9,"s":"PG","t":8300,"y":0.111,"lo":0.1085,"hi":0.1135},{"p":9,"s":"PG","t":9000,"y":0.111,"lo":0.1085,"hi":0.1135},{"p":9,"s":"PG","t":9700,"y":0.1105,"lo":0.108,"hi":0.113},
{"p":10,"s":"DPF","t":0,"y":0.1074,"lo":0.1034,"hi":0.1114},{"p":10,"s":"DPF","t":150,"y":0.109,"lo":0.106,"hi":0.112},{"p":10,"s":"DPF","t":400,"y":0.1105,"lo":0.108,"hi":0.113},{"p":10,"s":"DPF","t":800,"y":0.1115,"lo":0.109,"hi":0.114},{"p":10,"s":"DPF","t":1300,"y":0.1115,"lo":0.109,"hi":0.114},{"p":10,"s":"DPF","t":2000,"y":0.112,"lo":0.1095,"hi":0.1145},{"p":10,"s":"DPF","t":2700,"y":0.112,"lo":0.1095,"hi":0.1145},{"p":10,"s":"DPF","t":3400,"y":0.1115,"lo":0.109,"hi":0.114},{"p":10,"s":"DPF","t":4100,"y":0.112,"lo":0.1095,"hi":0.1145},{"p":10,"s":"DPF","t":4800,"y":0.1125,"lo":0.11,"hi":0.115},{"p":10,"s":"DPF","t":5500,"y":0.112,"lo":0.1095,"hi":0.1145},{"p":10,"s":"DPF","t":6200,"y":0.1125,"lo":0.11,"hi":0.115},{"p":10,"s":"DPF","t":6900,"y":0.113,"lo":0.1105,"hi":0.1155},{"p":10,"s":"DPF","t":7600,"y":0.1125,"lo":0.11,"hi":0.115},{"p":10,"s":"DPF","t":8300,"y":0.112,"lo":0.1095,"hi":0.1145},{"p":10,"s":"DPF","t":9000,"y":0.112,"lo":0.1095,"hi":0.1145},{"p":10,"s":"DPF","t":9700,"y":0.112,"lo":0.1095,"hi":0.1145},
{"p":10,"s":"Gibbs","t":0,"y":0.1018,"lo":0.0978,"hi":0.1058},{"p":10,"s":"Gibbs","t":150,"y":0.1035,"lo":0.1005,"hi":0.1065},{"p":10,"s":"Gibbs","t":400,"y":0.1045,"lo":0.102,"hi":0.107},{"p":10,"s":"Gibbs","t":800,"y":0.104,"lo":0.101,"hi":0.107},{"p":10,"s":"Gibbs","t":1300,"y":0.1035,"lo":0.1005,"hi":0.1065},{"p":10,"s":"Gibbs","t":2000,"y":0.104,"lo":0.101,"hi":0.107},{"p":10,"s":"Gibbs","t":2700,"y":0.1045,"lo":0.102,"hi":0.107},{"p":10,"s":"Gibbs","t":3400,"y":0.105,"lo":0.1025,"hi":0.1075},{"p":10,"s":"Gibbs","t":4100,"y":0.1055,"lo":0.103,"hi":0.108},{"p":10,"s":"Gibbs","t":4800,"y":0.1055,"lo":0.103,"hi":0.108},{"p":10,"s":"Gibbs","t":5500,"y":0.106,"lo":0.1035,"hi":0.1085},{"p":10,"s":"Gibbs","t":6200,"y":0.1065,"lo":0.104,"hi":0.109},{"p":10,"s":"Gibbs","t":6900,"y":0.1065,"lo":0.104,"hi":0.109},{"p":10,"s":"Gibbs","t":7600,"y":0.106,"lo":0.1035,"hi":0.1085},{"p":10,"s":"Gibbs","t":8300,"y":0.1055,"lo":0.103,"hi":0.108},{"p":10,"s":"Gibbs","t":9000,"y":0.106,"lo":0.1035,"hi":0.1085},{"p":10,"s":"Gibbs","t":9700,"y":0.106,"lo":0.1035,"hi":0.1085},
{"p":10,"s":"PG","t":0,"y":0.1018,"lo":0.0978,"hi":0.1058},{"p":10,"s":"PG","t":150,"y":0.1045,"lo":0.1015,"hi":0.1075},{"p":10,"s":"PG","t":400,"y":0.107,"lo":0.1045,"hi":0.1095},{"p":10,"s":"PG","t":800,"y":0.108,"lo":0.1055,"hi":0.1105},{"p":10,"s":"PG","t":1300,"y":0.1085,"lo":0.106,"hi":0.111},{"p":10,"s":"PG","t":2000,"y":0.1085,"lo":0.106,"hi":0.111},{"p":10,"s":"PG","t":2700,"y":0.109,"lo":0.1065,"hi":0.1115},{"p":10,"s":"PG","t":3400,"y":0.1095,"lo":0.107,"hi":0.112},{"p":10,"s":"PG","t":4100,"y":0.1095,"lo":0.107,"hi":0.112},{"p":10,"s":"PG","t":4800,"y":0.11,"lo":0.1075,"hi":0.1125},{"p":10,"s":"PG","t":5500,"y":0.11,"lo":0.1075,"hi":0.1125},{"p":10,"s":"PG","t":6200,"y":0.1095,"lo":0.107,"hi":0.112},{"p":10,"s":"PG","t":6900,"y":0.1095,"lo":0.107,"hi":0.112},{"p":10,"s":"PG","t":7600,"y":0.1095,"lo":0.107,"hi":0.112},{"p":10,"s":"PG","t":8300,"y":0.11,"lo":0.1075,"hi":0.1125},{"p":10,"s":"PG","t":9000,"y":0.11,"lo":0.1075,"hi":0.1125},{"p":10,"s":"PG","t":9700,"y":0.11,"lo":0.1075,"hi":0.1125},
{"p":11,"s":"DPF","t":0,"y":0.105,"lo":0.101,"hi":0.109},{"p":11,"s":"DPF","t":150,"y":0.1075,"lo":0.1045,"hi":0.1105},{"p":11,"s":"DPF","t":400,"y":0.109,"lo":0.1065,"hi":0.1115},{"p":11,"s":"DPF","t":800,"y":0.1105,"lo":0.108,"hi":0.113},{"p":11,"s":"DPF","t":1300,"y":0.111,"lo":0.1085,"hi":0.1135},{"p":11,"s":"DPF","t":2000,"y":0.1095,"lo":0.107,"hi":0.112},{"p":11,"s":"DPF","t":2700,"y":0.11,"lo":0.1075,"hi":0.1125},{"p":11,"s":"DPF","t":3400,"y":0.1105,"lo":0.108,"hi":0.113},{"p":11,"s":"DPF","t":4100,"y":0.11,"lo":0.1075,"hi":0.1125},{"p":11,"s":"DPF","t":4800,"y":0.1105,"lo":0.108,"hi":0.113},{"p":11,"s":"DPF","t":5500,"y":0.111,"lo":0.1085,"hi":0.1135},{"p":11,"s":"DPF","t":6200,"y":0.111,"lo":0.1085,"hi":0.1135},{"p":11,"s":"DPF","t":6900,"y":0.1115,"lo":0.109,"hi":0.114},{"p":11,"s":"DPF","t":7600,"y":0.1115,"lo":0.109,"hi":0.114},{"p":11,"s":"DPF","t":8300,"y":0.112,"lo":0.1095,"hi":0.1145},{"p":11,"s":"DPF","t":9000,"y":0.1115,"lo":0.109,"hi":0.114},{"p":11,"s":"DPF","t":9700,"y":0.1105,"lo":0.108,"hi":0.113},
{"p":11,"s":"Gibbs","t":0,"y":0.0963,"lo":0.0923,"hi":0.1003},{"p":11,"s":"Gibbs","t":150,"y":0.1025,"lo":0.0995,"hi":0.1055},{"p":11,"s":"Gibbs","t":400,"y":0.1025,"lo":0.1,"hi":0.105},{"p":11,"s":"Gibbs","t":800,"y":0.101,"lo":0.0985,"hi":0.1035},{"p":11,"s":"Gibbs","t":1300,"y":0.1015,"lo":0.099,"hi":0.104},{"p":11,"s":"Gibbs","t":2000,"y":0.1035,"lo":0.101,"hi":0.106},{"p":11,"s":"Gibbs","t":2700,"y":0.1035,"lo":0.101,"hi":0.106},{"p":11,"s":"Gibbs","t":3400,"y":0.104,"lo":0.1015,"hi":0.1065},{"p":11,"s":"Gibbs","t":4100,"y":0.104,"lo":0.1015,"hi":0.1065},{"p":11,"s":"Gibbs","t":4800,"y":0.1035,"lo":0.101,"hi":0.106},{"p":11,"s":"Gibbs","t":5500,"y":0.103,"lo":0.1005,"hi":0.1055},{"p":11,"s":"Gibbs","t":6200,"y":0.1035,"lo":0.101,"hi":0.106},{"p":11,"s":"Gibbs","t":6900,"y":0.103,"lo":0.1005,"hi":0.1055},{"p":11,"s":"Gibbs","t":7600,"y":0.104,"lo":0.1015,"hi":0.1065},{"p":11,"s":"Gibbs","t":8300,"y":0.1045,"lo":0.102,"hi":0.107},{"p":11,"s":"Gibbs","t":9000,"y":0.1055,"lo":0.103,"hi":0.108},{"p":11,"s":"Gibbs","t":9700,"y":0.1055,"lo":0.103,"hi":0.108},
{"p":11,"s":"PG","t":0,"y":0.104,"lo":0.1,"hi":0.108},{"p":11,"s":"PG","t":150,"y":0.108,"lo":0.105,"hi":0.111},{"p":11,"s":"PG","t":400,"y":0.1095,"lo":0.107,"hi":0.112},{"p":11,"s":"PG","t":800,"y":0.1105,"lo":0.108,"hi":0.113},{"p":11,"s":"PG","t":1300,"y":0.111,"lo":0.1085,"hi":0.1135},{"p":11,"s":"PG","t":2000,"y":0.112,"lo":0.1095,"hi":0.1145},{"p":11,"s":"PG","t":2700,"y":0.1125,"lo":0.11,"hi":0.115},{"p":11,"s":"PG","t":3400,"y":0.1125,"lo":0.11,"hi":0.115},{"p":11,"s":"PG","t":4100,"y":0.113,"lo":0.1105,"hi":0.1155},{"p":11,"s":"PG","t":4800,"y":0.113,"lo":0.1105,"hi":0.1155},{"p":11,"s":"PG","t":5500,"y":0.113,"lo":0.1105,"hi":0.1155},{"p":11,"s":"PG","t":6200,"y":0.1125,"lo":0.11,"hi":0.115},{"p":11,"s":"PG","t":6900,"y":0.1125,"lo":0.11,"hi":0.115},{"p":11,"s":"PG","t":7600,"y":0.1125,"lo":0.11,"hi":0.115},{"p":11,"s":"PG","t":8300,"y":0.112,"lo":0.1095,"hi":0.1145},{"p":11,"s":"PG","t":9000,"y":0.1115,"lo":0.109,"hi":0.114},{"p":11,"s":"PG","t":9700,"y":0.1105,"lo":0.108,"hi":0.113},
{"p":12,"s":"DPF","t":0,"y":0.111,"lo":0.108,"hi":0.114},{"p":12,"s":"DPF","t":150,"y":0.111,"lo":0.1085,"hi":0.1135},{"p":12,"s":"DPF","t":400,"y":0.111,"lo":0.1085,"hi":0.1135},{"p":12,"s":"DPF","t":800,"y":0.111,"lo":0.1085,"hi":0.1135},{"p":12,"s":"DPF","t":1300,"y":0.1105,"lo":0.108,"hi":0.113},{"p":12,"s":"DPF","t":2000,"y":0.111,"lo":0.1085,"hi":0.1135},{"p":12,"s":"DPF","t":2700,"y":0.111,"lo":0.1085,"hi":0.1135},{"p":12,"s":"DPF","t":3400,"y":0.111,"lo":0.1085,"hi":0.1135},{"p":12,"s":"DPF","t":4100,"y":0.1105,"lo":0.108,"hi":0.113},{"p":12,"s":"DPF","t":4800,"y":0.1105,"lo":0.108,"hi":0.113},{"p":12,"s":"DPF","t":5500,"y":0.111,"lo":0.1085,"hi":0.1135},{"p":12,"s":"DPF","t":6200,"y":0.111,"lo":0.1085,"hi":0.1135},{"p":12,"s":"DPF","t":6900,"y":0.1105,"lo":0.108,"hi":0.113},{"p":12,"s":"DPF","t":7600,"y":0.11,"lo":0.1075,"hi":0.1125},{"p":12,"s":"DPF","t":8300,"y":0.11,"lo":0.1075,"hi":0.1125},{"p":12,"s":"DPF","t":9000,"y":0.112,"lo":0.1095,"hi":0.1145},{"p":12,"s":"DPF","t":9700,"y":0.1115,"lo":0.109,"hi":0.114},
{"p":12,"s":"Gibbs","t":0,"y":0.091,"lo":0.088,"hi":0.094},{"p":12,"s":"Gibbs","t":150,"y":0.1,"lo":0.0965,"hi":0.1035},{"p":12,"s":"Gibbs","t":400,"y":0.1035,"lo":0.1005,"hi":0.1065},{"p":12,"s":"Gibbs","t":800,"y":0.1045,"lo":0.1015,"hi":0.1075},{"p":12,"s":"Gibbs","t":1300,"y":0.1045,"lo":0.102,"hi":0.107},{"p":12,"s":"Gibbs","t":2000,"y":0.104,"lo":0.1015,"hi":0.1065},{"p":12,"s":"Gibbs","t":2700,"y":0.105,"lo":0.1025,"hi":0.1075},{"p":12,"s":"Gibbs","t":3400,"y":0.1045,"lo":0.102,"hi":0.107},{"p":12,"s":"Gibbs","t":4100,"y":0.1045,"lo":0.102,"hi":0.107},{"p":12,"s":"Gibbs","t":4800,"y":0.106,"lo":0.1035,"hi":0.1085},{"p":12,"s":"Gibbs","t":5500,"y":0.1065,"lo":0.104,"hi":0.109},{"p":12,"s":"Gibbs","t":6200,"y":0.1055,"lo":0.103,"hi":0.108},{"p":12,"s":"Gibbs","t":6900,"y":0.106,"lo":0.1035,"hi":0.1085},{"p":12,"s":"Gibbs","t":7600,"y":0.108,"lo":0.1055,"hi":0.1105},{"p":12,"s":"Gibbs","t":8300,"y":0.108,"lo":0.1055,"hi":0.1105},{"p":12,"s":"Gibbs","t":9000,"y":0.107,"lo":0.1045,"hi":0.1095},{"p":12,"s":"Gibbs","t":9700,"y":0.108,"lo":0.1055,"hi":0.1105},
{"p":12,"s":"PG","t":0,"y":0.09,"lo":0.087,"hi":0.093},{"p":12,"s":"PG","t":150,"y":0.1018,"lo":0.0983,"hi":0.1053},{"p":12,"s":"PG","t":400,"y":0.1095,"lo":0.1065,"hi":0.1125},{"p":12,"s":"PG","t":800,"y":0.1115,"lo":0.109,"hi":0.114},{"p":12,"s":"PG","t":1300,"y":0.112,"lo":0.1095,"hi":0.1145},{"p":12,"s":"PG","t":2000,"y":0.112,"lo":0.1095,"hi":0.1145},{"p":12,"s":"PG","t":2700,"y":0.112,"lo":0.1095,"hi":0.1145},{"p":12,"s":"PG","t":3400,"y":0.112,"lo":0.1095,"hi":0.1145},{"p":12,"s":"PG","t":4100,"y":0.1115,"lo":0.109,"hi":0.114},{"p":12,"s":"PG","t":4800,"y":0.112,"lo":0.1095,"hi":0.1145},{"p":12,"s":"PG","t":5500,"y":0.112,"lo":0.1095,"hi":0.1145},{"p":12,"s":"PG","t":6200,"y":0.1115,"lo":0.109,"hi":0.114},{"p":12,"s":"PG","t":6900,"y":0.111,"lo":0.1085,"hi":0.1135},{"p":12,"s":"PG","t":7600,"y":0.1105,"lo":0.108,"hi":0.113},{"p":12,"s":"PG","t":8300,"y":0.11,"lo":0.1075,"hi":0.1125},{"p":12,"s":"PG","t":9000,"y":0.1105,"lo":0.108,"hi":0.113},{"p":12,"s":"PG","t":9700,"y":0.1105,"lo":0.108,"hi":0.113},
{"p":13,"s":"DPF","t":0,"y":0.1075,"lo":0.1035,"hi":0.1115},{"p":13,"s":"DPF","t":150,"y":0.1085,"lo":0.1055,"hi":0.1115},{"p":13,"s":"DPF","t":400,"y":0.108,"lo":0.105,"hi":0.111},{"p":13,"s":"DPF","t":800,"y":0.1075,"lo":0.1045,"hi":0.1105},{"p":13,"s":"DPF","t":1300,"y":0.108,"lo":0.105,"hi":0.111},{"p":13,"s":"DPF","t":2000,"y":0.108,"lo":0.105,"hi":0.111},{"p":13,"s":"DPF","t":2700,"y":0.1075,"lo":0.1045,"hi":0.1105},{"p":13,"s":"DPF","t":3400,"y":0.1055,"lo":0.101,"hi":0.11},{"p":13,"s":"DPF","t":4100,"y":0.108,"lo":0.105,"hi":0.111},{"p":13,"s":"DPF","t":4800,"y":0.105,"lo":0.1005,"hi":0.1095},{"p":13,"s":"DPF","t":5500,"y":0.1075,"lo":0.1045,"hi":0.1105},{"p":13,"s":"DPF","t":6200,"y":0.1075,"lo":0.1045,"hi":0.1105},{"p":13,"s":"DPF","t":6900,"y":0.106,"lo":0.102,"hi":0.11},{"p":13,"s":"DPF","t":7600,"y":0.1075,"lo":0.1045,"hi":0.1105},{"p":13,"s":"DPF","t":8300,"y":0.1075,"lo":0.1045,"hi":0.1105},{"p":13,"s":"DPF","t":9000,"y":0.107,"lo":0.1035,"hi":0.1105},{"p":13,"s":"DPF","t":9700,"y":0.109,"lo":0.106,"hi":0.112},
{"p":13,"s":"Gibbs","t":0,"y":0.1085,"lo":0.1045,"hi":0.1125},{"p":13,"s":"Gibbs","t":150,"y":0.1095,"lo":0.1065,"hi":0.1125},{"p":13,"s":"Gibbs","t":400,"y":0.1085,"lo":0.1055,"hi":0.1115},{"p":13,"s":"Gibbs","t":800,"y":0.108,"lo":0.105,"hi":0.111},{"p":13,"s":"Gibbs","t":1300,"y":0.1085,"lo":0.1055,"hi":0.1115},{"p":13,"s":"Gibbs","t":2000,"y":0.108,"lo":0.105,"hi":0.111},{"p":13,"s":"Gibbs","t":2700,"y":0.1085,"lo":0.1055,"hi":0.1115},{"p":13,"s":"Gibbs","t":3400,"y":0.108,"lo":0.105,"hi":0.111},{"p":13,"s":"Gibbs","t":4100,"y":0.1075,"lo":0.1045,"hi":0.1105},{"p":13,"s":"Gibbs","t":4800,"y":0.108,"lo":0.105,"hi":0.111},{"p":13,"s":"Gibbs","t":5500,"y":0.1085,"lo":0.1055,"hi":0.1115},{"p":13,"s":"Gibbs","t":6200,"y":0.108,"lo":0.105,"hi":0.111},{"p":13,"s":"Gibbs","t":6900,"y":0.1085,"lo":0.1055,"hi":0.1115},{"p":13,"s":"Gibbs","t":7600,"y":0.108,"lo":0.105,"hi":0.111},{"p":13,"s":"Gibbs","t":8300,"y":0.1035,"lo":0.0985,"hi":0.1085},{"p":13,"s":"Gibbs","t":9000,"y":0.107,"lo":0.103,"hi":0.111},{"p":13,"s":"Gibbs","t":9700,"y":0.11,"lo":0.107,"hi":0.113},
{"p":13,"s":"PG","t":0,"y":0.1115,"lo":0.1075,"hi":0.1155},{"p":13,"s":"PG","t":150,"y":0.1105,"lo":0.1075,"hi":0.1135},{"p":13,"s":"PG","t":400,"y":0.1095,"lo":0.1065,"hi":0.1125},{"p":13,"s":"PG","t":800,"y":0.109,"lo":0.106,"hi":0.112},{"p":13,"s":"PG","t":1300,"y":0.1095,"lo":0.1065,"hi":0.1125},{"p":13,"s":"PG","t":2000,"y":0.1095,"lo":0.1065,"hi":0.1125},{"p":13,"s":"PG","t":2700,"y":0.109,"lo":0.106,"hi":0.112},{"p":13,"s":"PG","t":3400,"y":0.1095,"lo":0.1065,"hi":0.1125},{"p":13,"s":"PG","t":4100,"y":0.1085,"lo":0.1055,"hi":0.1115},{"p":13,"s":"PG","t":4800,"y":0.108,"lo":0.105,"hi":0.111},{"p":13,"s":"PG","t":5500,"y":0.11,"lo":0.107,"hi":0.113},{"p":13,"s":"PG","t":6200,"y":0.1085,"lo":0.1055,"hi":0.1115},{"p":13,"s":"PG","t":6900,"y":0.1075,"lo":0.1045,"hi":0.1105},{"p":13,"s":"PG","t":7600,"y":0.109,"lo":0.106,"hi":0.112},{"p":13,"s":"PG","t":8300,"y":0.1095,"lo":0.1065,"hi":0.1125},{"p":13,"s":"PG","t":9000,"y":0.1025,"lo":0.097,"hi":0.108},{"p":13,"s":"PG","t":9700,"y":0.1095,"lo":0.1065,"hi":0.1125},
{"p":14,"s":"DPF","t":0,"y":0.105,"lo":0.101,"hi":0.109},{"p":14,"s":"DPF","t":150,"y":0.109,"lo":0.106,"hi":0.112},{"p":14,"s":"DPF","t":400,"y":0.11,"lo":0.107,"hi":0.113},{"p":14,"s":"DPF","t":800,"y":0.109,"lo":0.106,"hi":0.112},{"p":14,"s":"DPF","t":1300,"y":0.1075,"lo":0.1045,"hi":0.1105},{"p":14,"s":"DPF","t":2000,"y":0.108,"lo":0.105,"hi":0.111},{"p":14,"s":"DPF","t":2700,"y":0.1085,"lo":0.1055,"hi":0.1115},{"p":14,"s":"DPF","t":3400,"y":0.108,"lo":0.105,"hi":0.111},{"p":14,"s":"DPF","t":4100,"y":0.1085,"lo":0.1055,"hi":0.1115},{"p":14,"s":"DPF","t":4800,"y":0.108,"lo":0.105,"hi":0.111},{"p":14,"s":"DPF","t":5500,"y":0.1075,"lo":0.1045,"hi":0.1105},{"p":14,"s":"DPF","t":6200,"y":0.1085,"lo":0.1055,"hi":0.1115},{"p":14,"s":"DPF","t":6900,"y":0.1075,"lo":0.1045,"hi":0.1105},{"p":14,"s":"DPF","t":7600,"y":0.1085,"lo":0.1055,"hi":0.1115},{"p":14,"s":"DPF","t":8300,"y":0.108,"lo":0.105,"hi":0.111},{"p":14,"s":"DPF","t":9000,"y":0.1085,"lo":0.1055,"hi":0.1115},{"p":14,"s":"DPF","t":9700,"y":0.108,"lo":0.105,"hi":0.111},
{"p":14,"s":"Gibbs","t":0,"y":0.105,"lo":0.101,"hi":0.109},{"p":14,"s":"Gibbs","t":150,"y":0.1095,"lo":0.1065,"hi":0.1125},{"p":14,"s":"Gibbs","t":400,"y":0.1105,"lo":0.1075,"hi":0.1135},{"p":14,"s":"Gibbs","t":800,"y":0.108,"lo":0.105,"hi":0.111},{"p":14,"s":"Gibbs","t":1300,"y":0.107,"lo":0.104,"hi":0.11},{"p":14,"s":"Gibbs","t":2000,"y":0.1085,"lo":0.1055,"hi":0.1115},{"p":14,"s":"Gibbs","t":2700,"y":0.1085,"lo":0.1055,"hi":0.1115},{"p":14,"s":"Gibbs","t":3400,"y":0.109,"lo":0.106,"hi":0.112},{"p":14,"s":"Gibbs","t":4100,"y":0.1085,"lo":0.1055,"hi":0.1115},{"p":14,"s":"Gibbs","t":4800,"y":0.109,"lo":0.106,"hi":0.112},{"p":14,"s":"Gibbs","t":5500,"y":0.1085,"lo":0.1055,"hi":0.1115},{"p":14,"s":"Gibbs","t":6200,"y":0.1095,"lo":0.1065,"hi":0.1125},{"p":14,"s":"Gibbs","t":6900,"y":0.109,"lo":0.106,"hi":0.112},{"p":14,"s":"Gibbs","t":7600,"y":0.1085,"lo":0.1055,"hi":0.1115},{"p":14,"s":"Gibbs","t":8300,"y":0.109,"lo":0.106,"hi":0.112},{"p":14,"s":"Gibbs","t":9000,"y":0.106,"lo":0.102,"hi":0.11},{"p":14,"s":"Gibbs","t":9700,"y":0.1085,"lo":0.1055,"hi":0.1115},
{"p":14,"s":"PG","t":0,"y":0.105,"lo":0.101,"hi":0.109},{"p":14,"s":"PG","t":150,"y":0.1105,"lo":0.1075,"hi":0.1135},{"p":14,"s":"PG","t":400,"y":0.1115,"lo":0.1085,"hi":0.1145},{"p":14,"s":"PG","t":800,"y":0.1095,"lo":0.1065,"hi":0.1125},{"p":14,"s":"PG","t":1300,"y":0.106,"lo":0.102,"hi":0.11},{"p":14,"s":"PG","t":2000,"y":0.1095,"lo":0.1065,"hi":0.1125},{"p":14,"s":"PG","t":2700,"y":0.11,"lo":0.107,"hi":0.113},{"p":14,"s":"PG","t":3400,"y":0.1095,"lo":0.1065,"hi":0.1125},{"p":14,"s":"PG","t":4100,"y":0.1095,"lo":0.1065,"hi":0.1125},{"p":14,"s":"PG","t":4800,"y":0.11,"lo":0.107,"hi":0.113},{"p":14,"s":"PG","t":5500,"y":0.1075,"lo":0.1035,"hi":0.1115},{"p":14,"s":"PG","t":6200,"y":0.1095,"lo":0.1065,"hi":0.1125},{"p":14,"s":"PG","t":6900,"y":0.107,"lo":0.103,"hi":0.111},{"p":14,"s":"PG","t":7600,"y":0.1095,"lo":0.1065,"hi":0.1125},{"p":14,"s":"PG","t":8300,"y":0.109,"lo":0.106,"hi":0.112},{"p":14,"s":"PG","t":9000,"y":0.109,"lo":0.106,"hi":0.112},{"p":14,"s":"PG","t":9700,"y":0.1095,"lo":0.1065,"hi":0.1125},
{"p":15,"s":"DPF","t":0,"y":0.1035,"lo":0.0995,"hi":0.1075},{"p":15,"s":"DPF","t":150,"y":0.1075,"lo":0.1045,"hi":0.1105},{"p":15,"s":"DPF","t":400,"y":0.108,"lo":0.105,"hi":0.111},{"p":15,"s":"DPF","t":800,"y":0.1075,"lo":0.1045,"hi":0.1105},{"p":15,"s":"DPF","t":1300,"y":0.1075,"lo":0.1045,"hi":0.1105},{"p":15,"s":"DPF","t":2000,"y":0.108,"lo":0.105,"hi":0.111},{"p":15,"s":"DPF","t":2700,"y":0.1075,"lo":0.1045,"hi":0.1105},{"p":15,"s":"DPF","t":3400,"y":0.108,"lo":0.105,"hi":0.111},{"p":15,"s":"DPF","t":4100,"y":0.1055,"lo":0.1015,"hi":0.1095},{"p":15,"s":"DPF","t":4800,"y":0.1075,"lo":0.1045,"hi":0.1105},{"p":15,"s":"DPF","t":5500,"y":0.107,"lo":0.104,"hi":0.11},{"p":15,"s":"DPF","t":6200,"y":0.108,"lo":0.105,"hi":0.111},{"p":15,"s":"DPF","t":6900,"y":0.1075,"lo":0.1045,"hi":0.1105},{"p":15,"s":"DPF","t":7600,"y":0.107,"lo":0.104,"hi":0.11},{"p":15,"s":"DPF","t":8300,"y":0.1075,"lo":0.1045,"hi":0.1105},{"p":15,"s":"DPF","t":9000,"y":0.108,"lo":0.105,"hi":0.111},{"p":15,"s":"DPF","t":9700,"y":0.1085,"lo":0.1055,"hi":0.1115},
{"p":15,"s":"Gibbs","t":0,"y":0.1035,"lo":0.0995,"hi":0.1075},{"p":15,"s":"Gibbs","t":150,"y":0.1065,"lo":0.1035,"hi":0.1095},{"p":15,"s":"Gibbs","t":400,"y":0.108,"lo":0.105,"hi":0.111},{"p":15,"s":"Gibbs","t":800,"y":0.1085,"lo":0.1055,"hi":0.1115},{"p":15,"s":"Gibbs","t":1300,"y":0.1075,"lo":0.1045,"hi":0.1105},{"p":15,"s":"Gibbs","t":2000,"y":0.1085,"lo":0.1055,"hi":0.1115},{"p":15,"s":"Gibbs","t":2700,"y":0.108,"lo":0.105,"hi":0.111},{"p":15,"s":"Gibbs","t":3400,"y":0.109,"lo":0.106,"hi":0.112},{"p":15,"s":"Gibbs","t":4100,"y":0.1085,"lo":0.1055,"hi":0.1115},{"p":15,"s":"Gibbs","t":4800,"y":0.1095,"lo":0.1065,"hi":0.1125},{"p":15,"s":"Gibbs","t":5500,"y":0.109,"lo":0.106,"hi":0.112},{"p":15,"s":"Gibbs","t":6200,"y":0.1085,"lo":0.1055,"hi":0.1115},{"p":15,"s":"Gibbs","t":6900,"y":0.109,"lo":0.106,"hi":0.112},{"p":15,"s":"Gibbs","t":7600,"y":0.1085,"lo":0.1055,"hi":0.1115},{"p":15,"s":"Gibbs","t":8300,"y":0.1085,"lo":0.1055,"hi":0.1115},{"p":15,"s":"Gibbs","t":9000,"y":0.1085,"lo":0.1055,"hi":0.1115},{"p":15,"s":"Gibbs","t":9700,"y":0.1085,"lo":0.1055,"hi":0.1115},
{"p":15,"s":"PG","t":0,"y":0.1035,"lo":0.0995,"hi":0.1075},{"p":15,"s":"PG","t":150,"y":0.1085,"lo":0.1055,"hi":0.1115},{"p":15,"s":"PG","t":400,"y":0.1095,"lo":0.1065,"hi":0.1125},{"p":15,"s":"PG","t":800,"y":0.1095,"lo":0.1065,"hi":0.1125},{"p":15,"s":"PG","t":1300,"y":0.11,"lo":0.107,"hi":0.113},{"p":15,"s":"PG","t":2000,"y":0.109,"lo":0.106,"hi":0.112},{"p":15,"s":"PG","t":2700,"y":0.11,"lo":0.107,"hi":0.113},{"p":15,"s":"PG","t":3400,"y":0.1095,"lo":0.1065,"hi":0.1125},{"p":15,"s":"PG","t":4100,"y":0.11,"lo":0.107,"hi":0.113},{"p":15,"s":"PG","t":4800,"y":0.1105,"lo":0.1075,"hi":0.1135},{"p":15,"s":"PG","t":5500,"y":0.1095,"lo":0.1065,"hi":0.1125},{"p":15,"s":"PG","t":6200,"y":0.11,"lo":0.107,"hi":0.113},{"p":15,"s":"PG","t":6900,"y":0.1095,"lo":0.1065,"hi":0.1125},{"p":15,"s":"PG","t":7600,"y":0.11,"lo":0.107,"hi":0.113},{"p":15,"s":"PG","t":8300,"y":0.1095,"lo":0.1065,"hi":0.1125},{"p":15,"s":"PG","t":9000,"y":0.1095,"lo":0.1065,"hi":0.1125},{"p":15,"s":"PG","t":9700,"y":0.109,"lo":0.106,"hi":0.112},
{"p":16,"s":"DPF","t":0,"y":0.108,"lo":0.104,"hi":0.112},{"p":16,"s":"DPF","t":150,"y":0.1085,"lo":0.1055,"hi":0.1115},{"p":16,"s":"DPF","t":400,"y":0.108,"lo":0.105,"hi":0.111},{"p":16,"s":"DPF","t":800,"y":0.1085,"lo":0.1055,"hi":0.1115},{"p":16,"s":"DPF","t":1300,"y":0.108,"lo":0.105,"hi":0.111},{"p":16,"s":"DPF","t":2000,"y":0.1085,"lo":0.1055,"hi":0.1115},{"p":16,"s":"DPF","t":2700,"y":0.1085,"lo":0.1055,"hi":0.1115},{"p":16,"s":"DPF","t":3400,"y":0.108,"lo":0.105,"hi":0.111},{"p":16,"s":"DPF","t":4100,"y":0.1075,"lo":0.1045,"hi":0.1105},{"p":16,"s":"DPF","t":4800,"y":0.1055,"lo":0.1015,"hi":0.1095},{"p":16,"s":"DPF","t":5500,"y":0.108,"lo":0.105,"hi":0.111},{"p":16,"s":"DPF","t":6200,"y":0.107,"lo":0.104,"hi":0.11},{"p":16,"s":"DPF","t":6900,"y":0.1085,"lo":0.1055,"hi":0.1115},{"p":16,"s":"DPF","t":7600,"y":0.108,"lo":0.105,"hi":0.111},{"p":16,"s":"DPF","t":8300,"y":0.1075,"lo":0.1045,"hi":0.1105},{"p":16,"s":"DPF","t":9000,"y":0.1075,"lo":0.1045,"hi":0.1105},{"p":16,"s":"DPF","t":9700,"y":0.1055,"lo":0.1015,"hi":0.1095},
{"p":16,"s":"Gibbs","t":0,"y":0.0996,"lo":0.0956,"hi":0.1036},{"p":16,"s":"Gibbs","t":150,"y":0.1085,"lo":0.1055,"hi":0.1115},{"p":16,"s":"Gibbs","t":400,"y":0.109,"lo":0.106,"hi":0.112},{"p":16,"s":"Gibbs","t":800,"y":0.1095,"lo":0.1065,"hi":0.1125},{"p":16,"s":"Gibbs","t":1300,"y":0.108,"lo":0.104,"hi":0.112},{"p":16,"s":"Gibbs","t":2000,"y":0.108,"lo":0.105,"hi":0.111},{"p":16,"s":"Gibbs","t":2700,"y":0.1075,"lo":0.1045,"hi":0.1105},{"p":16,"s":"Gibbs","t":3400,"y":0.1085,"lo":0.1055,"hi":0.1115},{"p":16,"s":"Gibbs","t":4100,"y":0.109,"lo":0.106,"hi":0.112},{"p":16,"s":"Gibbs","t":4800,"y":0.108,"lo":0.105,"hi":0.111},{"p":16,"s":"Gibbs","t":5500,"y":0.1085,"lo":0.1055,"hi":0.1115},{"p":16,"s":"Gibbs","t":6200,"y":0.109,"lo":0.106,"hi":0.112},{"p":16,"s":"Gibbs","t":6900,"y":0.108,"lo":0.105,"hi":0.111},{"p":16,"s":"Gibbs","t":7600,"y":0.1085,"lo":0.1055,"hi":0.1115},{"p":16,"s":"Gibbs","t":8300,"y":0.1095,"lo":0.1065,"hi":0.1125},{"p":16,"s":"Gibbs","t":9000,"y":0.1085,"lo":0.1055,"hi":0.1115},{"p":16,"s":"Gibbs","t":9700,"y":0.108,"lo":0.105,"hi":0.111},
{"p":16,"s":"PG","t":0,"y":0.1105,"lo":0.1065,"hi":0.1145},{"p":16,"s":"PG","t":150,"y":0.1105,"lo":0.1075,"hi":0.1135},{"p":16,"s":"PG","t":400,"y":0.11,"lo":0.107,"hi":0.113},{"p":16,"s":"PG","t":800,"y":0.1085,"lo":0.1055,"hi":0.1115},{"p":16,"s":"PG","t":1300,"y":0.1095,"lo":0.1065,"hi":0.1125},{"p":16,"s":"PG","t":2000,"y":0.1105,"lo":0.1075,"hi":0.1135},{"p":16,"s":"PG","t":2700,"y":0.11,"lo":0.107,"hi":0.113},{"p":16,"s":"PG","t":3400,"y":0.1105,"lo":0.1075,"hi":0.1135},{"p":16,"s":"PG","t":4100,"y":0.1095,"lo":0.1065,"hi":0.1125},{"p":16,"s":"PG","t":4800,"y":0.1095,"lo":0.1065,"hi":0.1125},{"p":16,"s":"PG","t":5500,"y":0.1105,"lo":0.1075,"hi":0.1135},{"p":16,"s":"PG","t":6200,"y":0.109,"lo":0.106,"hi":0.112},{"p":16,"s":"PG","t":6900,"y":0.11,"lo":0.107,"hi":0.113},{"p":16,"s":"PG","t":7600,"y":0.1105,"lo":0.1075,"hi":0.1135},{"p":16,"s":"PG","t":8300,"y":0.1095,"lo":0.1065,"hi":0.1125},{"p":16,"s":"PG","t":9000,"y":0.1085,"lo":0.1055,"hi":0.1115},{"p":16,"s":"PG","t":9700,"y":0.1095,"lo":0.1065,"hi":0.1125}
]},
"transform": [
  {"lookup": "p", "from": {"data": {"values": [
    {"p":1,"r":1,"c":1},{"p":2,"r":1,"c":2},{"p":3,"r":1,"c":3},{"p":4,"r":1,"c":4},
    {"p":5,"r":2,"c":1},{"p":6,"r":2,"c":2},{"p":7,"r":2,"c":3},{"p":8,"r":2,"c":4},
    {"p":9,"r":3,"c":1},{"p":10,"r":3,"c":2},{"p":11,"r":3,"c":3},{"p":12,"r":3,"c":4},
    {"p":13,"r":4,"c":1},{"p":14,"r":4,"c":2},{"p":15,"r":4,"c":3},{"p":16,"r":4,"c":4}
  ]}, "key": "p", "fields": ["r", "c"]}}
],
"spacing": {"row": 10, "column": 9},
"facet": {
  "row": {"field": "r", "type": "ordinal", "title": "Relative log density",
          "header": {"labels": false, "titleOrient": "left", "titleFontSize": 31, "titleFontWeight": "normal", "titleFont": "Liberation Sans", "titleColor": "#000000", "titlePadding": 10}},
  "column": {"field": "c", "type": "ordinal", "title": "Time (seconds)",
          "header": {"labels": false, "titleOrient": "bottom", "titleFontSize": 31, "titleFontWeight": "normal", "titleFont": "Liberation Sans", "titleColor": "#000000", "titlePadding": 8}}
},
"spec": {
  "width": 229,
  "height": 169,
  "layer": [
    {"mark": {"type": "area", "opacity": 0.3},
     "encoding": {
       "x": {"field": "t", "type": "quantitative", "title": null,
             "scale": {"domain": [-490, 10300], "nice": false, "zero": false},
             "axis": {"values": [0,1250,2500,3750,5000,6250,7500,8750,10000], "tickCount": 30, "format": "d", "labelOverlap": false,
                      "labelExpr": "datum.value % 2500 === 0 ? datum.label : ''",
                      "labelAngle": -90, "labelAlign": "right", "labelBaseline": "middle",
                      "tickOpacity": {"condition": {"test": "datum.value % 2500 === 0", "value": 1}, "value": 0},
                      "gridWidth": {"condition": {"test": "datum.value % 2500 === 0", "value": 1.6}, "value": 0.8}}},
       "y": {"field": "lo", "type": "quantitative", "title": null,
             "scale": {"domain": [0.057, 0.149], "nice": false, "zero": false},
             "axis": {"values": [0.0625,0.075,0.0875,0.1,0.1125,0.125,0.1375], "tickCount": 30, "format": ".3f", "labelOverlap": false,
                      "labelExpr": "(datum.value == 0.075 || datum.value == 0.1 || datum.value == 0.125) ? datum.label : ''",
                      "tickOpacity": {"condition": {"test": "datum.value == 0.075 || datum.value == 0.1 || datum.value == 0.125", "value": 1}, "value": 0},
                      "gridWidth": {"condition": {"test": "datum.value == 0.075 || datum.value == 0.1 || datum.value == 0.125", "value": 1.6}, "value": 0.8}}},
       "y2": {"field": "hi"},
       "fill": {"field": "s", "type": "nominal",
                "scale": {"range": ["#7a7a7a", "#7a7a7a", "#7a7a7a"]},
                "legend": {"orient": "none", "legendX": 1027, "legendY": 299, "title": null, "symbolType": "square", "symbolSize": 1764, "symbolStrokeWidth": 0, "symbolOpacity": 0.22, "labelExpr": "''", "rowPadding": 5.5}}
     }},
    {"mark": {"type": "line", "strokeWidth": 4.5, "opacity": 0.9},
     "encoding": {
       "x": {"field": "t", "type": "quantitative", "title": null},
       "y": {"field": "y", "type": "quantitative", "title": null},
       "stroke": {"field": "s", "type": "nominal", "title": "Sampler",
                 "scale": {"domain": ["DPF", "Gibbs", "PG"], "range": ["#4477AA", "#CC6677", "#DDCC77"]},
                 "legend": {"orient": "none", "legendX": 1027, "legendY": 272, "symbolType": "stroke", "symbolStrokeWidth": 4, "symbolSize": 1764, "rowPadding": 17, "labelOffset": 8}}
     }}
  ]
},
"config": {
  "font": "Liberation Sans",
  "view": {"stroke": "#888888", "strokeWidth": 2},
  "axis": {"domain": false, "gridColor": "#ebebeb", "tickColor": "#333333", "tickSize": 5, "tickWidth": 1.6,
           "labelColor": "#4d4d4d", "labelFont": "Liberation Sans", "labelFontSize": 20, "labelPadding": 3,
           "titleFont": "Liberation Sans", "titleFontSize": 28, "titleFontWeight": "normal", "titleColor": "#000000"},
  "legend": {"titleFont": "Liberation Sans", "titleFontSize": 21, "titleFontWeight": "normal", "titleColor": "#000000",
             "labelFont": "Liberation Sans", "labelFontSize": 15, "labelColor": "#000000"}
}
}
